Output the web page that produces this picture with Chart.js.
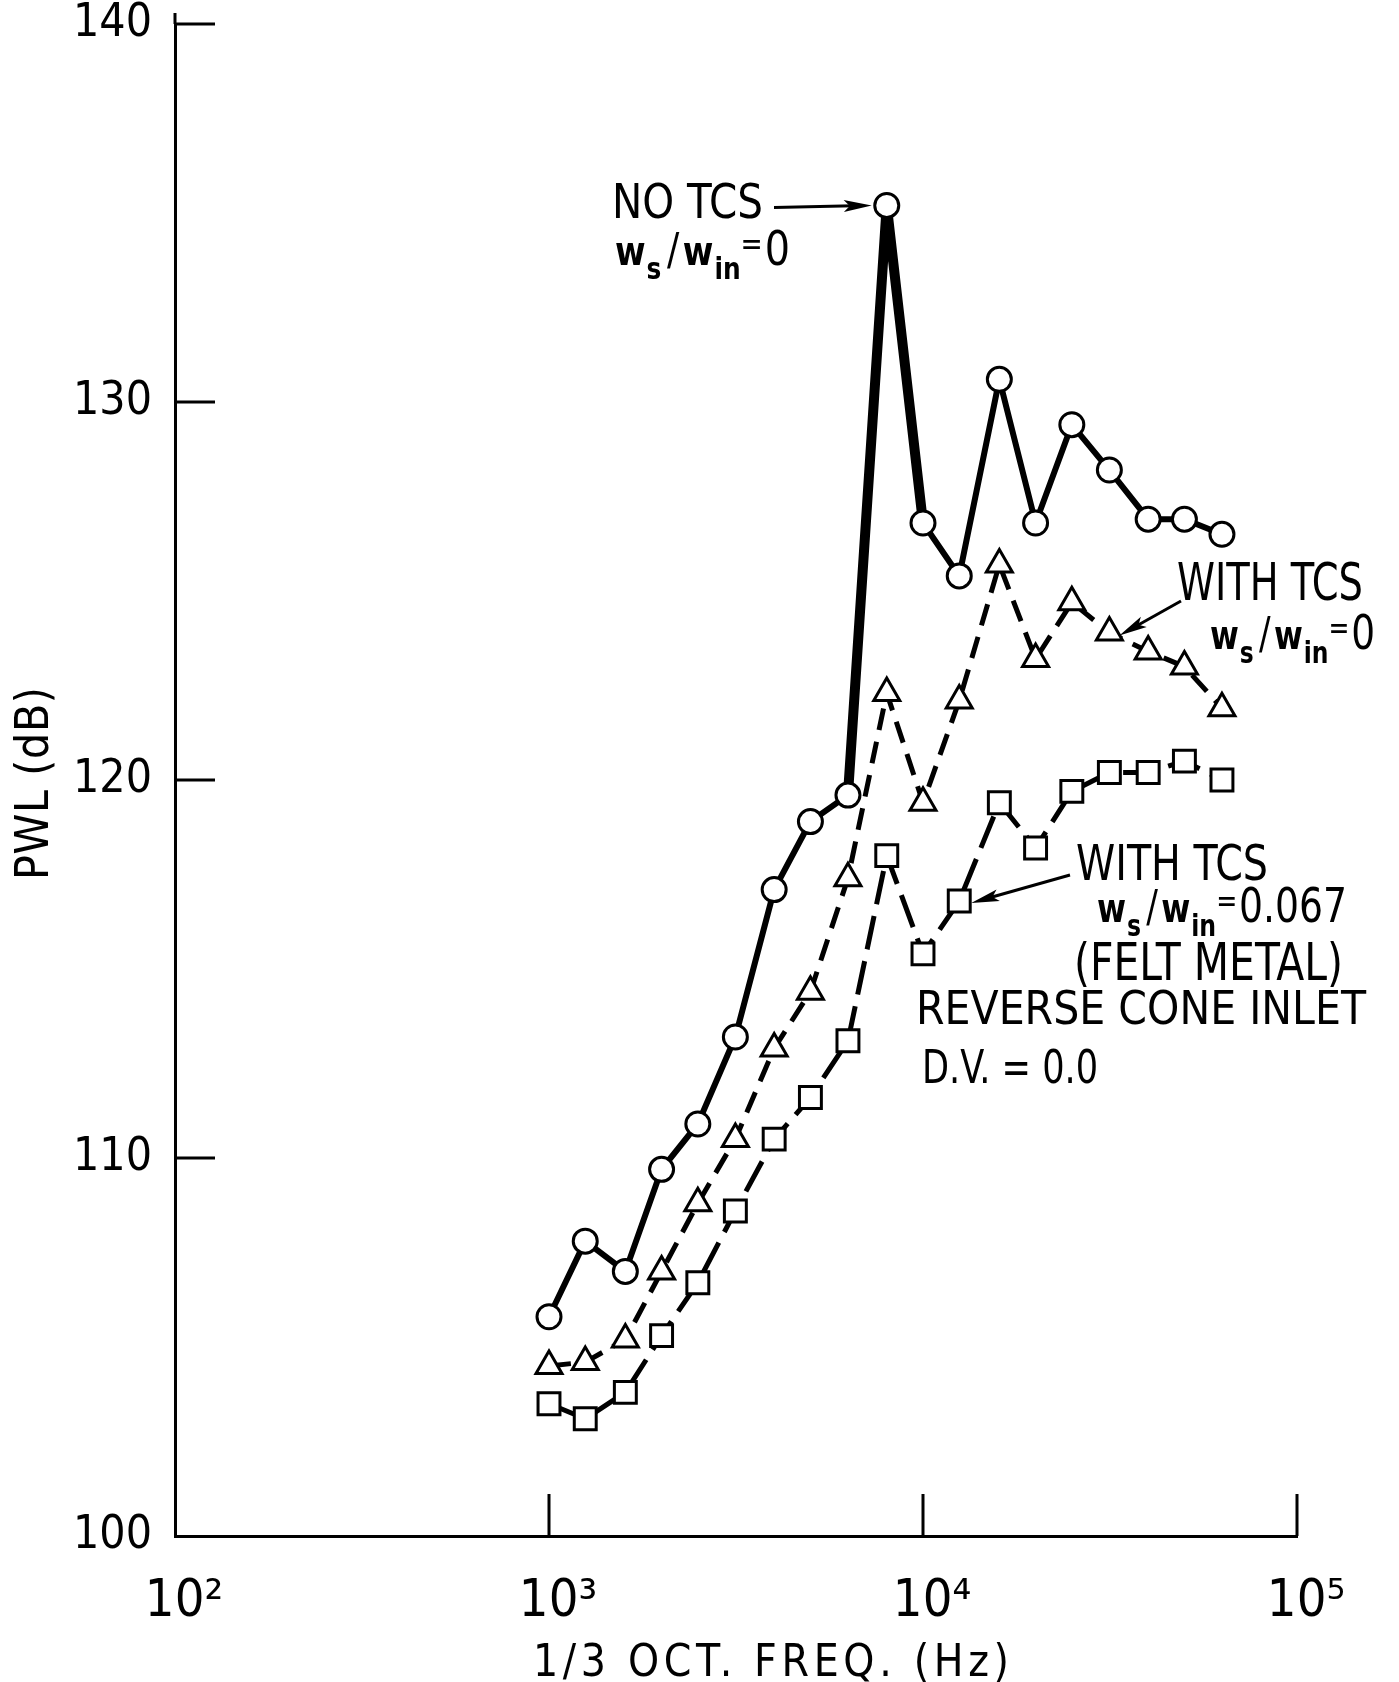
<!DOCTYPE html>
<html>
<head>
<meta charset="utf-8">
<script src="https://cdn.jsdelivr.net/npm/chart.js@4.4.1/dist/chart.umd.min.js"></script>
<style>
html, body { margin: 0; padding: 0; background: #fff; }
canvas { display: block; }
</style>
</head>
<body>
<canvas id="pwlChart" width="1399" height="1682"></canvas>
<script>
// 1/3 octave band centre frequencies (Hz)
const freqs = [1000, 1250, 1600, 2000, 2500, 3150, 4000, 5000, 6300, 8000, 10000, 12500, 16000, 20000, 25000, 31500, 40000, 50000, 63000];

// PWL (dB)
const noTcs = [105.8, 107.8, 107.0, 109.7, 110.9, 113.2, 117.1, 118.9, 119.6, 135.2, 126.8, 125.4, 130.6, 126.8, 129.4, 128.2, 126.9, 126.9, 126.5];
const withTcs = [104.5, 104.6, 105.2, 107.0, 108.8, 110.5, 112.9, 114.4, 117.4, 122.3, 119.4, 122.1, 125.7, 123.2, 124.7, 123.9, 123.4, 123.0, 121.9];
const feltMetal = [103.5, 103.1, 103.8, 105.3, 106.7, 108.6, 110.5, 111.6, 113.1, 118.0, 115.4, 116.8, 119.4, 118.2, 119.7, 120.2, 120.2, 120.5, 120.0];

const xTicks = [100, 1000, 10000, 100000];
const xTickLabels = ['10²', '10³', '10⁴', '10⁵'];
const yTicks = [100, 110, 120, 130, 140];

const FONT = "'Liberation Sans Narrow', 'DejaVu Sans Condensed', 'Liberation Sans', sans-serif";

function pts(vals) {
    return freqs.map((f, i) => ({ x: f, y: vals[i] }));
}

// draw text fitted to a target width: squeeze if too wide, letter-space if too narrow
function fitText(ctx, text, x, y, width, size) {
    ctx.font = size + 'px ' + FONT;
    ctx.letterSpacing = '0px';
    const w = ctx.measureText(text).width;
    if (w > width) {
        ctx.save();
        ctx.translate(x, y);
        ctx.scale(width / w, 1);
        ctx.fillText(text, 0, 0);
        ctx.restore();
    } else {
        const sp = (width - w) / Math.max(1, text.length - 1);
        ctx.letterSpacing = sp.toFixed(2) + 'px';
        ctx.fillText(text, x, y);
        ctx.letterSpacing = '0px';
    }
}

// w_s / w_in = value, squeezed into the given width
function drawRatio(ctx, x, y, value, width) {
    const parts = [
        { t: 'w', f: 'bold 40px ' + FONT, dy: 0, gap: 1 },
        { t: 's', f: 'bold 30px ' + FONT, dy: 14, gap: 6 },
        { t: '/', f: '44px ' + FONT, dy: 0, gap: 4 },
        { t: 'w', f: 'bold 40px ' + FONT, dy: 0, gap: 1 },
        { t: 'in', f: 'bold 30px ' + FONT, dy: 14, gap: 0 },
        { t: '=', f: '32px ' + FONT, dy: -10, gap: 2 },
        { t: value, f: '48px ' + FONT, dy: 0, gap: 0 }
    ];
    let total = 0;
    parts.forEach(p => {
        ctx.font = p.f;
        total += ctx.measureText(p.t).width + p.gap;
    });
    const k = Math.min(1, width / total);
    ctx.save();
    ctx.translate(x, y);
    ctx.scale(k, 1);
    let cx = 0;
    parts.forEach(p => {
        ctx.font = p.f;
        ctx.fillText(p.t, cx, p.dy);
        cx += ctx.measureText(p.t).width + p.gap;
    });
    ctx.restore();
}

function arrow(ctx, x1, y1, x2, y2) {
    const a = Math.atan2(y2 - y1, x2 - x1);
    const c = Math.cos(a), s = Math.sin(a);
    ctx.lineWidth = 3;
    ctx.beginPath();
    ctx.moveTo(x1, y1);
    ctx.lineTo(x2 - 18 * c, y2 - 18 * s);
    ctx.stroke();
    ctx.beginPath();
    ctx.moveTo(x2, y2);
    ctx.lineTo(x2 - 28 * c + 6 * s, y2 - 28 * s - 6 * c);
    ctx.lineTo(x2 - 22 * c, y2 - 22 * s);
    ctx.lineTo(x2 - 28 * c - 6 * s, y2 - 28 * s + 6 * c);
    ctx.closePath();
    ctx.fill();
}

const insideTicks = {
    id: 'insideTicks',
    beforeDatasetsDraw(chart) {
        const { ctx, chartArea, scales } = chart;
        ctx.save();
        ctx.strokeStyle = '#000';
        ctx.lineWidth = 3;
        ctx.beginPath();
        // y axis runs a little past the top tick
        ctx.moveTo(chartArea.left, chartArea.top);
        ctx.lineTo(chartArea.left, chartArea.top - 11);
        yTicks.forEach(v => {
            if (v === 100) return;
            const y = scales.y.getPixelForValue(v);
            ctx.moveTo(chartArea.left, y);
            ctx.lineTo(chartArea.left + 40, y);
        });
        xTicks.forEach(v => {
            if (v === 100) return;
            const x = scales.x.getPixelForValue(v);
            ctx.moveTo(x, chartArea.bottom);
            ctx.lineTo(x, chartArea.bottom - 42);
        });
        ctx.stroke();
        ctx.restore();
    }
};

const notes = {
    id: 'notes',
    afterDraw(chart) {
        const ctx = chart.ctx;
        ctx.save();
        ctx.fillStyle = '#000';
        ctx.strokeStyle = '#000';
        ctx.textAlign = 'left';
        ctx.textBaseline = 'alphabetic';

        // axis titles
        fitText(ctx, '1/3 OCT. FREQ. (Hz)', 533, 1676, 476, 44);
        ctx.save();
        ctx.translate(48, 880);
        ctx.rotate(-Math.PI / 2);
        fitText(ctx, 'PWL (dB)', 0, 0, 193, 46);
        ctx.restore();

        // NO TCS
        fitText(ctx, 'NO TCS', 612, 218, 151, 48);
        drawRatio(ctx, 615, 265, '0', 175);
        const c8k = chart.getDatasetMeta(0).data[9];
        arrow(ctx, 774, c8k.y + 2, c8k.x - 15, c8k.y);

        // WITH TCS, w/in = 0
        fitText(ctx, 'WITH TCS', 1177, 600, 186, 52);
        drawRatio(ctx, 1210, 649, '0', 165);
        const t31 = chart.getDatasetMeta(1).data[15];
        arrow(ctx, 1181, 601, t31.x + 10, t31.y + 3);

        // WITH TCS, felt metal
        fitText(ctx, 'WITH TCS', 1076, 880, 192, 50);
        drawRatio(ctx, 1097, 922, '0.067', 250);
        fitText(ctx, '(FELT METAL)', 1074, 980, 269, 52);
        fitText(ctx, 'REVERSE CONE INLET', 916, 1024, 450, 46);
        fitText(ctx, 'D.V. = 0.0', 922, 1083, 176, 46);
        const s12 = chart.getDatasetMeta(2).data[11];
        arrow(ctx, 1070, 875, s12.x + 12, s12.y + 2);

        ctx.restore();
    }
};

new Chart(document.getElementById('pwlChart'), {
    type: 'line',
    data: {
        datasets: [
            {
                label: 'NO TCS',
                data: pts(noTcs),
                borderColor: '#000',
                borderWidth: 6,
                pointStyle: 'circle',
                pointRadius: 12,
                pointBorderWidth: 3,
                pointBorderColor: '#000',
                pointBackgroundColor: '#fff',
                segment: {
                    borderWidth: c => (c.p0DataIndex === 8 || c.p0DataIndex === 9) ? 10 : 6
                }
            },
            {
                label: 'WITH TCS',
                data: pts(withTcs),
                borderColor: '#000',
                borderWidth: 5,
                borderDash: [22, 12],
                pointStyle: 'triangle',
                pointRadius: 15,
                pointBorderWidth: 3,
                pointBorderColor: '#000',
                pointBackgroundColor: '#fff'
            },
            {
                label: 'WITH TCS FELT METAL',
                data: pts(feltMetal),
                borderColor: '#000',
                borderWidth: 5,
                borderDash: [34, 12],
                pointStyle: 'rect',
                pointRadius: 15.5,
                pointBorderWidth: 3,
                pointBorderColor: '#000',
                pointBackgroundColor: '#fff'
            }
        ]
    },
    options: {
        responsive: false,
        animation: false,
        layout: { padding: { left: 0, top: 24, right: 102, bottom: 0 } },
        plugins: {
            legend: { display: false },
            tooltip: { enabled: false }
        },
        scales: {
            x: {
                type: 'logarithmic',
                position: 'bottom',
                min: 100,
                max: 100000,
                afterBuildTicks: scale => {
                    scale.ticks = xTicks.map(v => ({ value: v }));
                },
                afterFit: scale => {
                    scale.height = 146;
                    scale.paddingLeft = 0;
                    scale.paddingRight = 0;
                },
                grid: { display: false },
                border: { display: true, color: '#000', width: 3 },
                ticks: {
                    autoSkip: false,
                    maxRotation: 0,
                    color: '#000',
                    padding: 27,
                    labelOffset: 9,
                    font: { family: FONT, size: 52 },
                    callback: v => xTickLabels[xTicks.indexOf(v)]
                }
            },
            y: {
                min: 100,
                max: 140,
                afterBuildTicks: scale => {
                    scale.ticks = yTicks.map(v => ({ value: v }));
                },
                afterFit: scale => {
                    scale.width = 175;
                    scale.paddingTop = 0;
                    scale.paddingBottom = 0;
                },
                grid: { display: false },
                border: { display: true, color: '#000', width: 3 },
                ticks: {
                    color: '#000',
                    padding: 15,
                    font: { family: FONT, size: 46 },
                    callback: v => String(v)
                }
            }
        }
    },
    plugins: [insideTicks, notes]
});
</script>
</body>
</html>
